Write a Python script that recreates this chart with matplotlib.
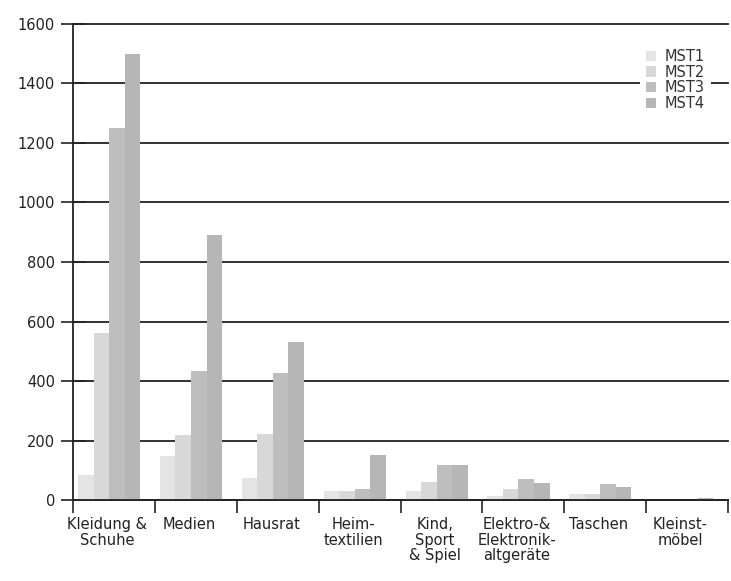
import matplotlib
matplotlib.use("Agg")
import matplotlib.pyplot as plt
import numpy as np

plt.rcParams['font.family'] = ['DejaVu Sans']

categories = ["Kleidung &\nSchuhe", "Medien", "Hausrat", "Heim-\ntextilien",
              "Kind,\nSport\n& Spiel", "Elektro-&\nElektronik-\naltgeräte",
              "Taschen", "Kleinst-\nmöbel"]
series_names = ["MST1", "MST2", "MST3", "MST4"]
mst1 = [85, 150, 75, 32, 30, 15, 20, 0]
mst2 = [560, 220, 224, 32, 60, 37, 20, 0]
mst3 = [1250, 435, 427, 38, 118, 72, 54, 2]
mst4 = [1500, 891, 532, 152, 117, 58, 44, 8]
yticks = [0, 200, 400, 600, 800, 1000, 1200, 1400, 1600]

colors = ['#e4e4e4', '#d8d8d8', '#bebebe', '#b6b6b6']
series = [mst1, mst2, mst3, mst4]

fig = plt.figure(figsize=(7.31, 5.81), dpi=100)
ax = fig.add_axes([0.1, 0.139, 0.896, 0.82])

x = np.arange(len(categories))
w = 0.19
offsets = [-0.345, -0.155, 0.035, 0.225]
for s, name, c, off in zip(series, series_names, colors, offsets):
    ax.bar(x + off, s, width=w, color=c, edgecolor='none', label=name, zorder=2)

ax.set_xlim(-0.5, len(categories) - 0.5)
ax.set_ylim(0, 1600)
ax.set_yticks(yticks)
ax.set_yticklabels([str(v) for v in yticks], fontsize=10.5, color='#222')
ax.tick_params(axis='y', direction='inout', length=18, width=1.2, color='#222', pad=4)
ax.grid(axis='y', color='#222', linewidth=1.3, zorder=0)
ax.set_axisbelow(True)
for gl in ax.get_ygridlines():
    gl.set_clip_on(False)

ax.set_xticks(x - 0.08)
ax.set_xticklabels(categories, fontsize=10.5, color='#222', linespacing=1.05)
ax.tick_params(axis='x', which='major', length=0, pad=12)
ax.set_xticks(np.arange(len(categories) + 1) - 0.5, minor=True)
ax.tick_params(axis='x', which='minor', direction='out', length=9, width=1.2, color='#222')

for sp in ['top', 'right']:
    ax.spines[sp].set_visible(False)
ax.spines['left'].set_color('#222')
ax.spines['left'].set_linewidth(1.3)
ax.spines['bottom'].set_color('#222')
ax.spines['bottom'].set_linewidth(1.3)

leg = ax.legend(loc='upper right', bbox_to_anchor=(0.985, 0.975), frameon=True,
                fontsize=10.5, handlelength=0.7, handleheight=0.7, handletextpad=0.6,
                labelspacing=0.05, borderpad=0.4)
leg.get_frame().set_edgecolor('none')
leg.get_frame().set_facecolor('white')
leg.get_frame().set_alpha(1)
for t in leg.get_texts():
    t.set_color('#333')

fig.savefig('out.png', dpi=100)
